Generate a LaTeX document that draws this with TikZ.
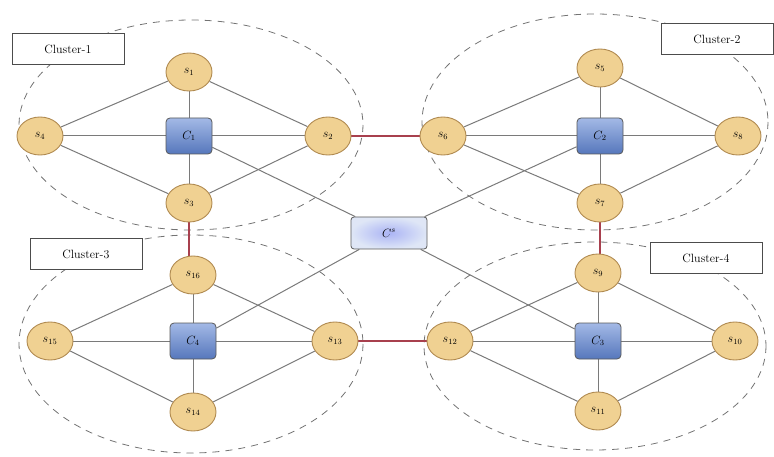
\documentclass[tikz,border=0pt]{standalone}
\usetikzlibrary{shapes.geometric,arrows.meta}
\definecolor{nodefill}{HTML}{F0D192}
\definecolor{nodeline}{HTML}{B08A50}
\definecolor{edgegray}{HTML}{7A7A7A}
\definecolor{redlink}{HTML}{A8404E}
\definecolor{chtop}{HTML}{A3B9E6}
\definecolor{chbot}{HTML}{5677BC}
\pgfdeclarelayer{background}
\pgfsetlayers{background,main}
\tikzset{
  sensor/.style={ellipse, draw=nodeline, line width=0.9pt, fill=nodefill,
    minimum width=46pt, minimum height=38pt, inner sep=0pt, font=\large},
  head/.style={rectangle, rounded corners=4pt, draw=black!65, line width=0.8pt,
    top color=chtop, bottom color=chbot, minimum width=46pt, minimum height=36pt,
    inner sep=0pt, font=\large},
  sink/.style={rectangle, rounded corners=3pt, draw=black!65, line width=0.8pt,
    inner color=chtop!70!blue!60, outer color=chtop!35, minimum width=76pt,
    minimum height=32pt, inner sep=0pt, font=\large},
  edge/.style={draw=edgegray, line width=1pt},
  link/.style={draw=redlink, line width=2.4pt},
  region/.style={draw=black!55, dash pattern=on 7pt off 6pt, line width=0.8pt},
  tag/.style={rectangle, draw=black!70, fill=white, line width=0.8pt,
    minimum width=112pt, minimum height=31pt, inner sep=0pt, font=\large}
}
\begin{document}
\begin{tikzpicture}[x=1pt,y=-1pt]
\useasboundingbox (0,0) rectangle (774,457);
% nodes
\node[sensor] (s1) at (189,72) {$s_1$};
\node[sensor] (s4) at (40,136) {$s_4$};
\node[head]   (c1) at (189,136) {$C_1$};
\node[sensor] (s2) at (328,136) {$s_2$};
\node[sensor] (s3) at (189,203) {$s_3$};

\node[sensor] (s5) at (600,68) {$s_5$};
\node[sensor] (s6) at (443,136) {$s_6$};
\node[head]   (c2) at (600,136) {$C_2$};
\node[sensor] (s8) at (738,136) {$s_8$};
\node[sensor] (s7) at (600,203) {$s_7$};

\node[sensor] (s16) at (193,275) {$s_{16}$};
\node[sensor] (s15) at (50,341) {$s_{15}$};
\node[head]   (c4) at (193,341) {$C_4$};
\node[sensor] (s13) at (335,341) {$s_{13}$};
\node[sensor] (s14) at (193,412) {$s_{14}$};

\node[sensor] (s9) at (598,273) {$s_9$};
\node[sensor] (s12) at (450,341) {$s_{12}$};
\node[head]   (c3) at (598,341) {$C_3$};
\node[sensor] (s10) at (735,341) {$s_{10}$};
\node[sensor] (s11) at (598,411) {$s_{11}$};

\node[sink] (cs) at (389,233) {$C^{s}$};

\begin{pgfonlayer}{background}
% cluster regions
\draw[region] (191,125) ellipse [x radius=172, y radius=105];
\draw[region] (595,122) ellipse [x radius=173, y radius=108];
\draw[region] (191,344) ellipse [x radius=172, y radius=109];
\draw[region] (595,346) ellipse [x radius=171, y radius=104];
% intra-cluster edges
\foreach \t/\l/\c/\r/\b in {s1/s4/c1/s2/s3, s5/s6/c2/s8/s7, s16/s15/c4/s13/s14, s9/s12/c3/s10/s11}{
  \draw[edge] (\t) -- (\l) -- (\b) -- (\r) -- (\t);
  \draw[edge] (\t) -- (\c) -- (\b);
  \draw[edge] (\l) -- (\c) -- (\r);
}
% heads to sink
\draw[edge] (c1) -- (cs);
\draw[edge] (c2) -- (cs);
\draw[edge] (c4) -- (cs);
\draw[edge] (c3) -- (cs);
% inter-cluster links
\draw[link] (s2) -- (s6);
\draw[link] (s3.south) -- (s3.south |- s16.north);
\draw[link] (s7.south) -- (s7.south |- s9.north);
\draw[link] (s13) -- (s12);
\end{pgfonlayer}

% cluster tags
\node[tag] (t1) at (68,49) {Cluster-1};
\node[tag] (t2) at (717,39) {Cluster-2};
\node[tag] (t3) at (86,254) {Cluster-3};
\node[tag] (t4) at (706,258) {Cluster-4};
\end{tikzpicture}
\end{document}
